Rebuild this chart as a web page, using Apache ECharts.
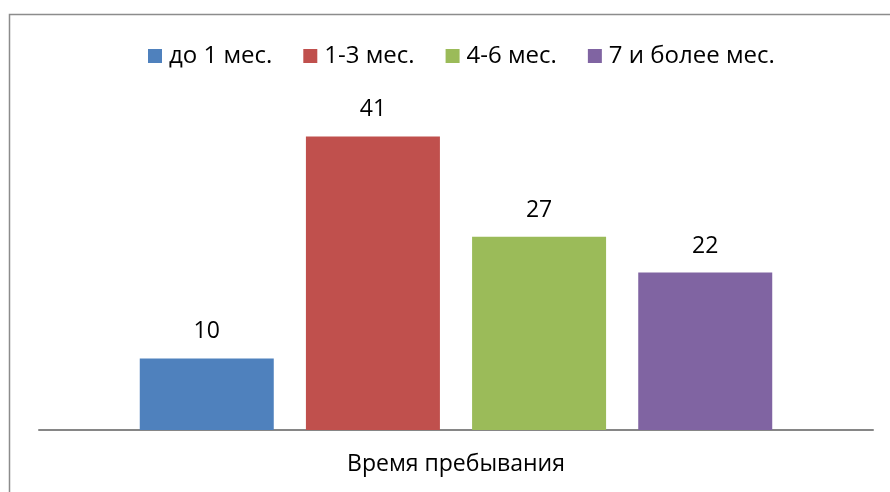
<!DOCTYPE html>
<html>
<head>
<meta charset="utf-8">
<script src="https://cdn.jsdelivr.net/npm/echarts@6/dist/echarts.min.js"></script>
<style>
  html, body { margin: 0; padding: 0; background: #fff; }
  #chart { width: 890px; height: 492px; }
</style>
</head>
<body>
<div id="chart"></div>
<script>
// данные
const categories = ['Время пребывания'];
const seriesNames = ['до 1 мес.', '1-3 мес.', '4-6 мес.', '7 и более мес.'];
const seriesValues = [10, 41, 27, 22];
const colors = ['#4F81BD', '#C0504D', '#9BBB59', '#8064A2'];

const font = '"Open Sans", sans-serif';

const myChart = echarts.init(document.getElementById('chart'));

const option = {
  animation: false,
  textStyle: { fontFamily: font },
  graphic: [{
    type: 'rect',
    shape: { x: 9.5, y: 14.5, width: 900, height: 500 },
    style: { fill: 'none', stroke: '#8c8c8c', lineWidth: 1.5 },
    silent: true
  }],
  legend: {
    top: 39,
    left: 143,
    itemWidth: 14,
    itemHeight: 14,
    itemGap: 31,
    icon: 'rect',
    textStyle: { fontSize: 24, color: '#000', fontFamily: font, padding: [0, 0, 0, 2] },
    data: seriesNames
  },
  grid: { left: 39, right: 17, top: 72, bottom: 62 },
  xAxis: {
    type: 'category',
    data: categories,
    axisLine: { lineStyle: { color: '#868686', width: 2 } },
    axisTick: { show: false },
    axisLabel: { fontSize: 23, color: '#000', margin: 23, fontFamily: font }
  },
  yAxis: {
    type: 'value',
    min: 0,
    max: 50,
    show: false,
    splitLine: { show: false }
  },
  series: seriesNames.map((name, i) => ({
    name: name,
    type: 'bar',
    data: [seriesValues[i]],
    barWidth: 134,
    barGap: '24%',
    itemStyle: { color: colors[i] },
    label: {
      show: true,
      position: 'top',
      distance: 15,
      fontSize: 23,
      color: '#000',
      fontFamily: font
    }
  }))
};

myChart.setOption(option);
</script>
</body>
</html>
